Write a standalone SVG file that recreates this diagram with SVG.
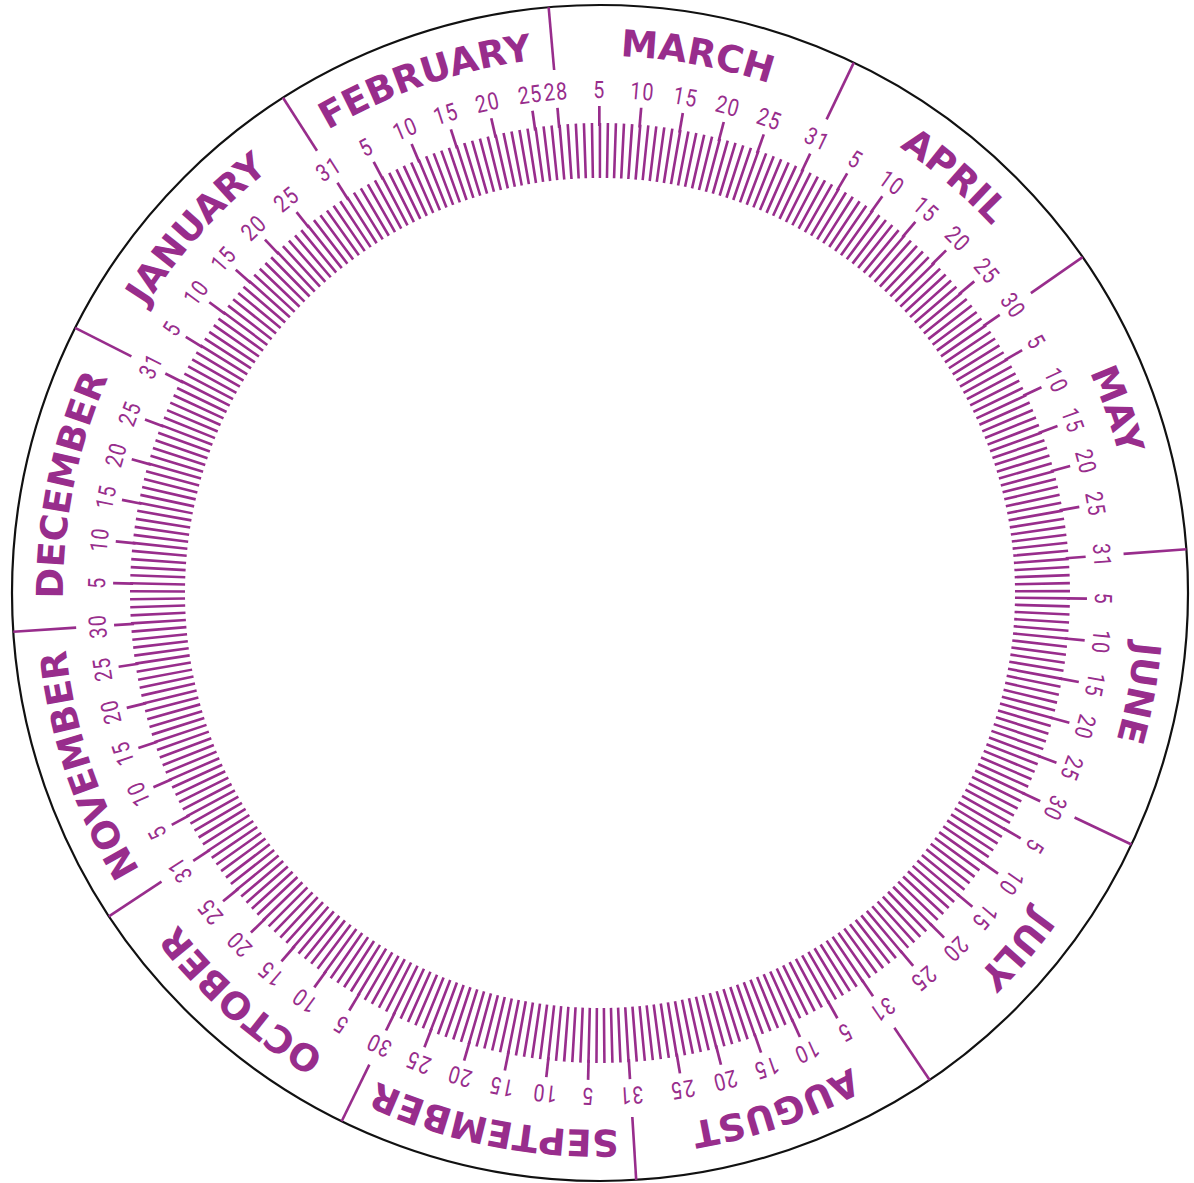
<svg xmlns="http://www.w3.org/2000/svg" width="1194" height="1183" viewBox="0 0 1194 1183">
<style>
.m{font-family:"DejaVu Sans","Liberation Sans",sans-serif;font-weight:bold;font-size:37px;fill:#982D8C;text-anchor:middle}
.n{font-family:Roboto,"DejaVu Sans",sans-serif;font-weight:400;font-size:24px;letter-spacing:1.5px;fill:#982D8C;text-anchor:middle}
.tk{stroke:#982D8C;stroke-width:2.7;fill:none}
.bd{stroke:#982D8C;stroke-width:2.6;fill:none}
</style>
<defs>
<path id="arc" d="M 331.5 127.94 A 537 537 0 0 1 868.5 127.94"/>
<line id="lt" class="tk" x1="600" y1="106" x2="600" y2="126"/>
<line id="bl" class="bd" x1="600" y1="5" x2="600" y2="68"/>
</defs>
<rect width="1194" height="1183" fill="#ffffff"/>
<circle id="dial-edge" cx="600" cy="593" r="588" fill="none" stroke="#111" stroke-width="2.2"/>
<circle id="day-ticks" cx="600" cy="593" r="442.5" fill="none" stroke="#982D8C" stroke-width="55" stroke-dasharray="2.6 5.017286" stroke-dashoffset="3.797"/>
<g id="month-boundaries">
<use href="#bl" transform="rotate(-32.62 600 593)"/>
<use href="#bl" transform="rotate(-5.01 600 593)"/>
<use href="#bl" transform="rotate(25.57 600 593)"/>
<use href="#bl" transform="rotate(55.16 600 593)"/>
<use href="#bl" transform="rotate(85.73 600 593)"/>
<use href="#bl" transform="rotate(115.32 600 593)"/>
<use href="#bl" transform="rotate(145.90 600 593)"/>
<use href="#bl" transform="rotate(176.47 600 593)"/>
<use href="#bl" transform="rotate(206.06 600 593)"/>
<use href="#bl" transform="rotate(236.64 600 593)"/>
<use href="#bl" transform="rotate(266.22 600 593)"/>
<use href="#bl" transform="rotate(296.80 600 593)"/>
</g>
<g id="january">
<text class="m" transform="rotate(-47.91 600 593)"><textPath href="#arc" startOffset="50%">JANUARY</textPath></text>
<g transform="rotate(-58.27 600 593)"><use href="#lt"/><text class="n" transform="translate(600 98) scale(0.82 1)">5</text></g>
<g transform="rotate(-53.34 600 593)"><use href="#lt"/><text class="n" transform="translate(600 98) scale(0.82 1)">10</text></g>
<g transform="rotate(-48.41 600 593)"><use href="#lt"/><text class="n" transform="translate(600 98) scale(0.82 1)">15</text></g>
<g transform="rotate(-43.47 600 593)"><use href="#lt"/><text class="n" transform="translate(600 98) scale(0.82 1)">20</text></g>
<g transform="rotate(-38.54 600 593)"><use href="#lt"/><text class="n" transform="translate(600 98) scale(0.82 1)">25</text></g>
<g transform="rotate(-32.62 600 593)"><use href="#lt"/><text class="n" transform="translate(600 98) scale(0.82 1)">31</text></g>
</g>
<g id="february">
<text class="m" transform="rotate(-18.82 600 593)"><textPath href="#arc" startOffset="50%">FEBRUARY</textPath></text>
<g transform="rotate(-27.69 600 593)"><use href="#lt"/><text class="n" transform="translate(600 98) scale(0.82 1)">5</text></g>
<g transform="rotate(-22.76 600 593)"><use href="#lt"/><text class="n" transform="translate(600 98) scale(0.82 1)">10</text></g>
<g transform="rotate(-17.83 600 593)"><use href="#lt"/><text class="n" transform="translate(600 98) scale(0.82 1)">15</text></g>
<g transform="rotate(-12.90 600 593)"><use href="#lt"/><text class="n" transform="translate(600 98) scale(0.82 1)">20</text></g>
<g transform="rotate(-7.97 600 593)"><use href="#lt"/><text class="n" transform="translate(600 98) scale(0.82 1)">25</text></g>
<g transform="rotate(-5.01 600 593)"><use href="#lt"/><text class="n" transform="translate(600 98) scale(0.82 1)">28</text></g>
</g>
<g id="march">
<text class="m" transform="rotate(10.28 600 593)"><textPath href="#arc" startOffset="50%">MARCH</textPath></text>
<g transform="rotate(-0.08 600 593)"><use href="#lt"/><text class="n" transform="translate(600 98) scale(0.82 1)">5</text></g>
<g transform="rotate(4.85 600 593)"><use href="#lt"/><text class="n" transform="translate(600 98) scale(0.82 1)">10</text></g>
<g transform="rotate(9.79 600 593)"><use href="#lt"/><text class="n" transform="translate(600 98) scale(0.82 1)">15</text></g>
<g transform="rotate(14.72 600 593)"><use href="#lt"/><text class="n" transform="translate(600 98) scale(0.82 1)">20</text></g>
<g transform="rotate(19.65 600 593)"><use href="#lt"/><text class="n" transform="translate(600 98) scale(0.82 1)">25</text></g>
<g transform="rotate(25.57 600 593)"><use href="#lt"/><text class="n" transform="translate(600 98) scale(0.82 1)">31</text></g>
</g>
<g id="april">
<text class="m" transform="rotate(40.37 600 593)"><textPath href="#arc" startOffset="50%">APRIL</textPath></text>
<g transform="rotate(30.50 600 593)"><use href="#lt"/><text class="n" transform="translate(600 98) scale(0.82 1)">5</text></g>
<g transform="rotate(35.43 600 593)"><use href="#lt"/><text class="n" transform="translate(600 98) scale(0.82 1)">10</text></g>
<g transform="rotate(40.36 600 593)"><use href="#lt"/><text class="n" transform="translate(600 98) scale(0.82 1)">15</text></g>
<g transform="rotate(45.29 600 593)"><use href="#lt"/><text class="n" transform="translate(600 98) scale(0.82 1)">20</text></g>
<g transform="rotate(50.22 600 593)"><use href="#lt"/><text class="n" transform="translate(600 98) scale(0.82 1)">25</text></g>
<g transform="rotate(55.16 600 593)"><use href="#lt"/><text class="n" transform="translate(600 98) scale(0.82 1)">30</text></g>
</g>
<g id="may">
<text class="m" transform="rotate(70.45 600 593)"><textPath href="#arc" startOffset="50%">MAY</textPath></text>
<g transform="rotate(60.09 600 593)"><use href="#lt"/><text class="n" transform="translate(600 98) scale(0.82 1)">5</text></g>
<g transform="rotate(65.02 600 593)"><use href="#lt"/><text class="n" transform="translate(600 98) scale(0.82 1)">10</text></g>
<g transform="rotate(69.95 600 593)"><use href="#lt"/><text class="n" transform="translate(600 98) scale(0.82 1)">15</text></g>
<g transform="rotate(74.88 600 593)"><use href="#lt"/><text class="n" transform="translate(600 98) scale(0.82 1)">20</text></g>
<g transform="rotate(79.81 600 593)"><use href="#lt"/><text class="n" transform="translate(600 98) scale(0.82 1)">25</text></g>
<g transform="rotate(85.73 600 593)"><use href="#lt"/><text class="n" transform="translate(600 98) scale(0.82 1)">31</text></g>
</g>
<g id="june">
<text class="m" transform="rotate(100.53 600 593)"><textPath href="#arc" startOffset="50%">JUNE</textPath></text>
<g transform="rotate(90.66 600 593)"><use href="#lt"/><text class="n" transform="translate(600 98) scale(0.82 1)">5</text></g>
<g transform="rotate(95.59 600 593)"><use href="#lt"/><text class="n" transform="translate(600 98) scale(0.82 1)">10</text></g>
<g transform="rotate(100.53 600 593)"><use href="#lt"/><text class="n" transform="translate(600 98) scale(0.82 1)">15</text></g>
<g transform="rotate(105.46 600 593)"><use href="#lt"/><text class="n" transform="translate(600 98) scale(0.82 1)">20</text></g>
<g transform="rotate(110.39 600 593)"><use href="#lt"/><text class="n" transform="translate(600 98) scale(0.82 1)">25</text></g>
<g transform="rotate(115.32 600 593)"><use href="#lt"/><text class="n" transform="translate(600 98) scale(0.82 1)">30</text></g>
</g>
<g id="july">
<text class="m" transform="rotate(130.61 600 593)"><textPath href="#arc" startOffset="50%">JULY</textPath></text>
<g transform="rotate(120.25 600 593)"><use href="#lt"/><text class="n" transform="translate(600 98) scale(0.82 1)">5</text></g>
<g transform="rotate(125.18 600 593)"><use href="#lt"/><text class="n" transform="translate(600 98) scale(0.82 1)">10</text></g>
<g transform="rotate(130.12 600 593)"><use href="#lt"/><text class="n" transform="translate(600 98) scale(0.82 1)">15</text></g>
<g transform="rotate(135.05 600 593)"><use href="#lt"/><text class="n" transform="translate(600 98) scale(0.82 1)">20</text></g>
<g transform="rotate(139.98 600 593)"><use href="#lt"/><text class="n" transform="translate(600 98) scale(0.82 1)">25</text></g>
<g transform="rotate(145.90 600 593)"><use href="#lt"/><text class="n" transform="translate(600 98) scale(0.82 1)">31</text></g>
</g>
<g id="august">
<text class="m" transform="rotate(161.19 600 593)"><textPath href="#arc" startOffset="50%">AUGUST</textPath></text>
<g transform="rotate(150.83 600 593)"><use href="#lt"/><text class="n" transform="translate(600 98) scale(0.82 1)">5</text></g>
<g transform="rotate(155.76 600 593)"><use href="#lt"/><text class="n" transform="translate(600 98) scale(0.82 1)">10</text></g>
<g transform="rotate(160.69 600 593)"><use href="#lt"/><text class="n" transform="translate(600 98) scale(0.82 1)">15</text></g>
<g transform="rotate(165.62 600 593)"><use href="#lt"/><text class="n" transform="translate(600 98) scale(0.82 1)">20</text></g>
<g transform="rotate(170.55 600 593)"><use href="#lt"/><text class="n" transform="translate(600 98) scale(0.82 1)">25</text></g>
<g transform="rotate(176.47 600 593)"><use href="#lt"/><text class="n" transform="translate(600 98) scale(0.82 1)">31</text></g>
</g>
<g id="september">
<text class="m" transform="rotate(191.27 600 593)"><textPath href="#arc" startOffset="50%">SEPTEMBER</textPath></text>
<g transform="rotate(181.40 600 593)"><use href="#lt"/><text class="n" transform="translate(600 98) scale(0.82 1)">5</text></g>
<g transform="rotate(186.33 600 593)"><use href="#lt"/><text class="n" transform="translate(600 98) scale(0.82 1)">10</text></g>
<g transform="rotate(191.27 600 593)"><use href="#lt"/><text class="n" transform="translate(600 98) scale(0.82 1)">15</text></g>
<g transform="rotate(196.20 600 593)"><use href="#lt"/><text class="n" transform="translate(600 98) scale(0.82 1)">20</text></g>
<g transform="rotate(201.13 600 593)"><use href="#lt"/><text class="n" transform="translate(600 98) scale(0.82 1)">25</text></g>
<g transform="rotate(206.06 600 593)"><use href="#lt"/><text class="n" transform="translate(600 98) scale(0.82 1)">30</text></g>
</g>
<g id="october">
<text class="m" transform="rotate(221.35 600 593)"><textPath href="#arc" startOffset="50%">OCTOBER</textPath></text>
<g transform="rotate(210.99 600 593)"><use href="#lt"/><text class="n" transform="translate(600 98) scale(0.82 1)">5</text></g>
<g transform="rotate(215.92 600 593)"><use href="#lt"/><text class="n" transform="translate(600 98) scale(0.82 1)">10</text></g>
<g transform="rotate(220.85 600 593)"><use href="#lt"/><text class="n" transform="translate(600 98) scale(0.82 1)">15</text></g>
<g transform="rotate(225.79 600 593)"><use href="#lt"/><text class="n" transform="translate(600 98) scale(0.82 1)">20</text></g>
<g transform="rotate(230.72 600 593)"><use href="#lt"/><text class="n" transform="translate(600 98) scale(0.82 1)">25</text></g>
<g transform="rotate(236.64 600 593)"><use href="#lt"/><text class="n" transform="translate(600 98) scale(0.82 1)">31</text></g>
</g>
<g id="november">
<text class="m" transform="rotate(251.43 600 593)"><textPath href="#arc" startOffset="50%">NOVEMBER</textPath></text>
<g transform="rotate(241.57 600 593)"><use href="#lt"/><text class="n" transform="translate(600 98) scale(0.82 1)">5</text></g>
<g transform="rotate(246.50 600 593)"><use href="#lt"/><text class="n" transform="translate(600 98) scale(0.82 1)">10</text></g>
<g transform="rotate(251.43 600 593)"><use href="#lt"/><text class="n" transform="translate(600 98) scale(0.82 1)">15</text></g>
<g transform="rotate(256.36 600 593)"><use href="#lt"/><text class="n" transform="translate(600 98) scale(0.82 1)">20</text></g>
<g transform="rotate(261.29 600 593)"><use href="#lt"/><text class="n" transform="translate(600 98) scale(0.82 1)">25</text></g>
<g transform="rotate(266.22 600 593)"><use href="#lt"/><text class="n" transform="translate(600 98) scale(0.82 1)">30</text></g>
</g>
<g id="december">
<text class="m" transform="rotate(281.51 600 593)"><textPath href="#arc" startOffset="50%">DECEMBER</textPath></text>
<g transform="rotate(271.16 600 593)"><use href="#lt"/><text class="n" transform="translate(600 98) scale(0.82 1)">5</text></g>
<g transform="rotate(276.09 600 593)"><use href="#lt"/><text class="n" transform="translate(600 98) scale(0.82 1)">10</text></g>
<g transform="rotate(281.02 600 593)"><use href="#lt"/><text class="n" transform="translate(600 98) scale(0.82 1)">15</text></g>
<g transform="rotate(285.95 600 593)"><use href="#lt"/><text class="n" transform="translate(600 98) scale(0.82 1)">20</text></g>
<g transform="rotate(290.88 600 593)"><use href="#lt"/><text class="n" transform="translate(600 98) scale(0.82 1)">25</text></g>
<g transform="rotate(296.80 600 593)"><use href="#lt"/><text class="n" transform="translate(600 98) scale(0.82 1)">31</text></g>
</g>
</svg>
